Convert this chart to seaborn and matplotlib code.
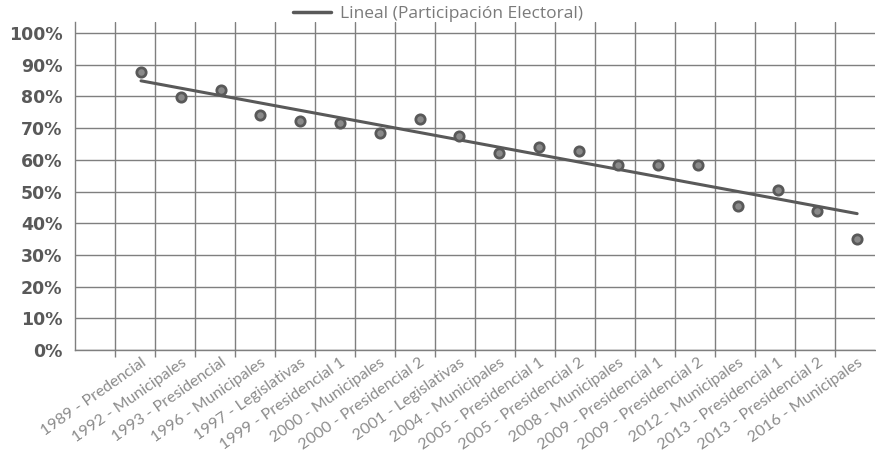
import numpy as np
import pandas as pd
import seaborn as sns
import matplotlib.pyplot as plt
from matplotlib.ticker import PercentFormatter, FixedLocator

# Datos de participación electoral
elecciones = [
    "1989 - Predencial", "1992 - Municipales", "1993 - Presidencial",
    "1996 - Municipales", "1997 - Legislativas", "1999 - Presidencial 1",
    "2000 - Municipales", "2000 - Presidencial 2", "2001 - Legislativas",
    "2004 - Municipales", "2005 - Presidencial 1", "2005 - Presidencial 2",
    "2008 - Municipales", "2009 - Presidencial 1", "2009 - Presidencial 2",
    "2012 - Municipales", "2013 - Presidencial 1", "2013 - Presidencial 2",
    "2016 - Municipales",
]
participacion = [0.876, 0.797, 0.822, 0.743, 0.722, 0.715, 0.684, 0.728, 0.674,
                 0.623, 0.639, 0.629, 0.585, 0.585, 0.585, 0.454, 0.506, 0.439,
                 0.351]

df = pd.DataFrame({"eleccion": elecciones, "participacion": participacion})
df["pos"] = np.arange(len(df))

sns.set_style("white")
plt.rcParams["font.family"] = ["Lato", "DejaVu Sans"]

fig = plt.figure(figsize=(8.76, 4.70), dpi=100)
ax = fig.add_axes([0.0856, 0.2553, 0.9133, 0.6979])

gris = "#595959"

# línea de tendencia
sns.regplot(data=df, x="pos", y="participacion", scatter=False, ci=None, ax=ax,
            color=gris, label="Lineal (Participación Electoral)", line_kws={"lw": 2.2})

# puntos
sns.scatterplot(data=df, x="pos", y="participacion", ax=ax, s=45,
                color="#8a8a8a", edgecolor=gris, linewidth=2, legend=False, zorder=4)

xmin, xmax = -1.66, 18.45
ax.set_xlim(xmin, xmax)
ax.set_ylim(0, 1.035)

ax.yaxis.set_major_locator(FixedLocator(np.arange(0, 1.01, 0.1)))
ax.yaxis.set_major_formatter(PercentFormatter(1.0, decimals=0))

ax.set_xticks(df["pos"])
ax.set_xticklabels(elecciones, rotation=35, ha="right", rotation_mode="anchor",
                   fontsize=11.5, color="#8c8c8c")
ax.xaxis.set_minor_locator(FixedLocator(np.linspace(xmin, xmax, 21)[1:-1]))

ax.tick_params(axis="x", which="major", length=0, pad=4)
ax.tick_params(axis="x", which="minor", length=5, width=1, color="#7f7f7f", bottom=True)
ax.tick_params(axis="y", length=0, pad=9)
for t in ax.get_yticklabels():
    t.set_fontfamily("DejaVu Sans")
    t.set_fontweight("bold")
    t.set_fontsize(12.5)
    t.set_color(gris)

ax.grid(axis="y", which="major", color="#7f7f7f", lw=1)
ax.grid(axis="x", which="minor", color="#7f7f7f", lw=1)
ax.grid(axis="x", which="major", visible=False)
ax.set_axisbelow(True)

for s in ["top", "right"]:
    ax.spines[s].set_visible(False)
for s in ["left", "bottom"]:
    ax.spines[s].set_color("#7f7f7f")
    ax.spines[s].set_linewidth(1)

ax.set_xlabel("")
ax.set_ylabel("")

leg = ax.legend(loc="upper center", bbox_to_anchor=(0.5, 1.005), bbox_transform=fig.transFigure,
                frameon=False, prop={"family": "Open Sans", "size": 12.5},
                handlelength=2.2, handletextpad=0.5, borderaxespad=0.1)
for t in leg.get_texts():
    t.set_color("#7a7a7a")
for l in leg.get_lines():
    l.set_linewidth(2.5)

fig.savefig("out.png", dpi=100)
